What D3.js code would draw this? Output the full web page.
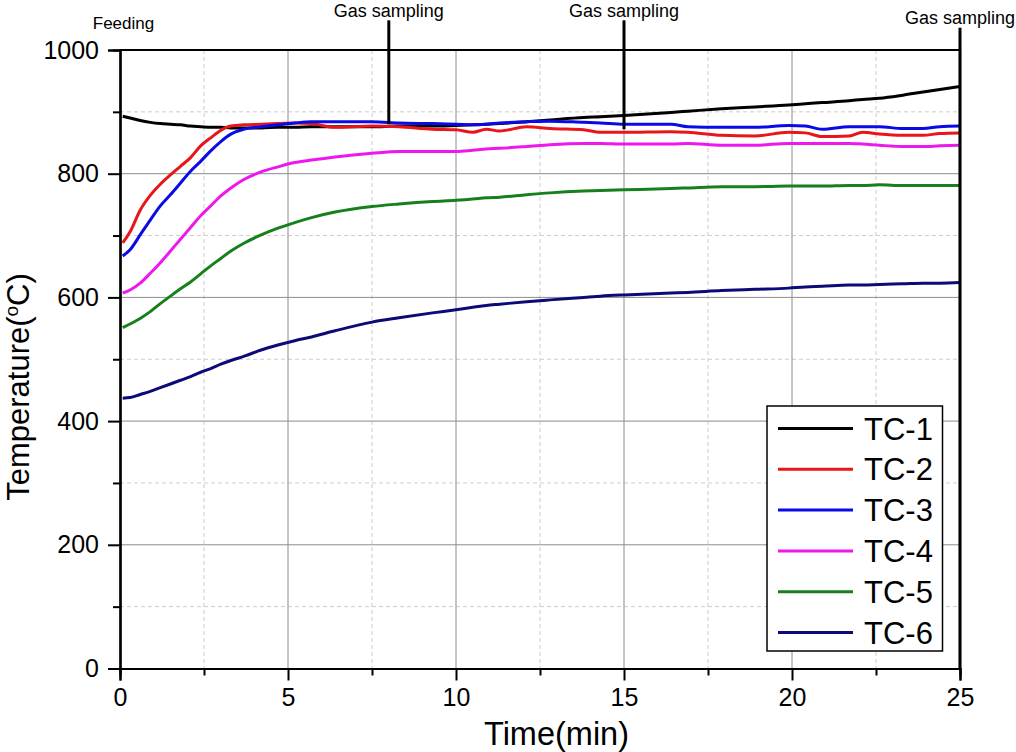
<!DOCTYPE html>
<html>
<head>
<meta charset="utf-8">
<script src="https://cdn.jsdelivr.net/npm/d3@7"></script>
<style>
  html, body { margin: 0; padding: 0; background: #fff; }
  svg { display: block; font-family: Arial, "Liberation Sans", sans-serif; }
</style>
</head>
<body>
<svg id="chart" width="1016" height="752"></svg>
<script>
// ---- data ----
const times = [0.08, 0.3, 0.6, 0.9, 1.2, 1.5, 1.8, 2.1, 2.4, 2.7, 3.0, 3.3, 3.7, 4.2, 4.7, 5.2, 5.7, 6.4, 7.5, 8.3, 9.3, 10, 10.5, 10.9, 11.3, 12.1, 12.8, 13.8, 14.3, 15, 16.4, 16.9, 17.9, 18.9, 19.9, 20.4, 20.9, 21.7, 22.1, 22.6, 23.3, 23.9, 24.4, 25];
const tc1 = [893, 890, 886, 883, 881, 880, 879, 877, 876, 875, 875, 874, 874, 874, 875, 875, 876, 876, 876, 877, 877, 878, 879, 880, 881, 884, 887, 891, 892, 894, 899, 901, 905, 908, 911, 913, 915, 918, 920, 922, 927, 932, 936, 941];
const tc2 = [688, 706, 741, 765, 783, 798, 812, 826, 845, 858, 870, 877, 879, 880, 881, 882, 881, 875, 877, 876, 872, 871, 867, 872, 869, 876, 873, 871, 867, 867, 868, 867, 862, 861, 867, 866, 860, 861, 867, 864, 862, 862, 865, 866];
const tc3 = [667, 677, 701, 725, 748, 766, 785, 804, 820, 837, 852, 864, 872, 876, 879, 882, 884, 884, 884, 882, 881, 880, 879, 880, 882, 884, 885, 883, 882, 880, 880, 876, 875, 875, 878, 877, 872, 876, 876, 876, 873, 873, 876, 877];
const tc4 = [607, 612, 623, 639, 656, 675, 694, 713, 732, 748, 764, 777, 791, 803, 811, 818, 822, 827, 833, 836, 836, 836, 838, 840, 841, 844, 847, 849, 849, 848, 848, 849, 846, 846, 849, 849, 849, 849, 848, 846, 844, 844, 845, 846];
const tc5 = [551, 557, 566, 577, 590, 602, 614, 625, 638, 651, 663, 675, 688, 701, 712, 721, 729, 738, 747, 751, 755, 757, 759, 761, 762, 766, 769, 772, 773, 774, 776, 777, 779, 779, 780, 780, 780, 781, 781, 782, 781, 781, 781, 781];
const tc6 = [437, 438, 443, 448, 454, 460, 466, 472, 479, 485, 492, 498, 505, 515, 523, 530, 536, 546, 560, 567, 575, 580, 584, 587, 589, 593, 596, 600, 602, 604, 607, 608, 611, 613, 615, 617, 618, 620, 620, 621, 622, 623, 623, 624];
const seriesNames = ["TC-1", "TC-2", "TC-3", "TC-4", "TC-5", "TC-6"];
const seriesColors = ["#000000", "#e8151b", "#0a0ae6", "#ee18ee", "#17801c", "#0b0b78"];
const xTicks = [0, 5, 10, 15, 20, 25];
const xMinorTicks = [2.5, 7.5, 12.5, 17.5, 22.5];
const yTicks = [0, 200, 400, 600, 800, 1000];
const yMinorTicks = [100, 300, 500, 700, 900];
const sampleTimes = [8, 15, 25];
const sampleTop = [1048, 1048, 1036];
const sampleBottom = [880, 872, 0];
const sampleLabel = "Gas sampling";
const feedLabel = "Feeding";

const seriesValues = [tc1, tc2, tc3, tc4, tc5, tc6];

// ---- layout ----
const svg = d3.select("#chart");
const L = 120, R = 960, T = 50, B = 668.5;
const x = d3.scaleLinear().domain([0, 25]).range([L, R]);
const y = d3.scaleLinear().domain([0, 1000]).range([B, T]);

// grid
const g = svg.append("g");
g.selectAll(".gxm").data(xMinorTicks).join("line")
  .attr("x1", d => x(d)).attr("x2", d => x(d)).attr("y1", T).attr("y2", B)
  .attr("stroke", "#cccccc").attr("stroke-width", 1).attr("stroke-dasharray", "4,3");
g.selectAll(".gym").data(yMinorTicks).join("line")
  .attr("x1", L).attr("x2", R).attr("y1", d => y(d)).attr("y2", d => y(d))
  .attr("stroke", "#cccccc").attr("stroke-width", 1).attr("stroke-dasharray", "4,3");
g.selectAll(".gx").data(xTicks.filter(d => d > 0 && d < 25)).join("line")
  .attr("x1", d => x(d)).attr("x2", d => x(d)).attr("y1", T).attr("y2", B)
  .attr("stroke", "#8c8c8c").attr("stroke-width", 1);
g.selectAll(".gy").data(yTicks.filter(d => d > 0 && d < 1000)).join("line")
  .attr("x1", L).attr("x2", R).attr("y1", d => y(d)).attr("y2", d => y(d))
  .attr("stroke", "#8c8c8c").attr("stroke-width", 1);

// lines
const line = d3.line().x(d => x(d[0])).y(d => y(d[1])).curve(d3.curveMonotoneX);
seriesValues.forEach((vals, i) => {
  svg.append("path")
    .datum(times.map((t, j) => [t, vals[j]]))
    .attr("fill", "none")
    .attr("stroke", seriesColors[i])
    .attr("stroke-width", 3)
    .attr("stroke-linejoin", "round")
    .attr("d", line);
});

// axes
const xAxis = svg.append("g").attr("transform", `translate(0,${B})`)
  .call(d3.axisBottom(x).tickValues(xTicks).tickSize(12).tickPadding(8).tickFormat(d3.format("d")));
const xAxisMinor = svg.append("g").attr("transform", `translate(0,${B})`)
  .call(d3.axisBottom(x).tickValues(xMinorTicks).tickSize(7).tickFormat(""));
const yAxis = svg.append("g").attr("transform", `translate(${L},0)`)
  .call(d3.axisLeft(y).tickValues(yTicks).tickSize(12).tickPadding(9).tickFormat(d3.format("d")));
const yAxisMinor = svg.append("g").attr("transform", `translate(${L},0)`)
  .call(d3.axisLeft(y).tickValues(yMinorTicks).tickSize(7).tickFormat(""));
[xAxis, xAxisMinor, yAxis, yAxisMinor].forEach(a => {
  a.select(".domain").attr("stroke", "#000").attr("stroke-width", 2.2);
  a.selectAll(".tick line").attr("stroke", "#000").attr("stroke-width", 2);
  a.selectAll(".tick text").attr("fill", "#000").attr("font-size", 25)
    .attr("font-family", "Arial, 'Liberation Sans', sans-serif");
});
xAxis.selectAll(".tick text").attr("dy", "0.71em");
// frame top & right
svg.append("line").attr("x1", L).attr("x2", R).attr("y1", T).attr("y2", T)
  .attr("stroke", "#000").attr("stroke-width", 2.2);
svg.append("line").attr("x1", R).attr("x2", R).attr("y1", T).attr("y2", B)
  .attr("stroke", "#000").attr("stroke-width", 2.2);

// axis titles
svg.append("text").attr("x", 556.5).attr("y", 745)
  .attr("text-anchor", "middle").attr("font-size", 32.5).attr("fill", "#000")
  .text("Time(min)");
const yt = svg.append("text")
  .attr("transform", `translate(29,${387}) rotate(-90)`)
  .attr("text-anchor", "middle").attr("font-size", 31).attr("fill", "#000");
yt.append("tspan").text("Temperature(");
yt.append("tspan").attr("font-size", 19).attr("dy", -11).text("o");
yt.append("tspan").attr("dy", 11).text("C)");

// gas sampling annotations
sampleTimes.forEach((t, i) => {
  svg.append("line")
    .attr("x1", x(t)).attr("x2", x(t))
    .attr("y1", y(sampleTop[i])).attr("y2", y(sampleBottom[i]))
    .attr("stroke", "#000").attr("stroke-width", 3);
  svg.append("text")
    .attr("x", x(t)).attr("y", y(sampleTop[i]) - 3.5)
    .attr("text-anchor", "middle").attr("font-size", 18).attr("fill", "#000")
    .text(sampleLabel);
});
svg.append("text").attr("x", x(0) + 3.5).attr("y", 28.5)
  .attr("text-anchor", "middle").attr("font-size", 17).attr("fill", "#000")
  .text(feedLabel);

// legend
const lg = svg.append("g").attr("transform", "translate(767,406)");
lg.append("rect").attr("width", 175.5).attr("height", 245)
  .attr("fill", "#fff").attr("stroke", "#000").attr("stroke-width", 1.5);
seriesNames.forEach((name, i) => {
  const cy = 22.5 + i * 40.8;
  lg.append("line").attr("x1", 11).attr("x2", 86).attr("y1", cy).attr("y2", cy)
    .attr("stroke", seriesColors[i]).attr("stroke-width", 3);
  lg.append("text").attr("x", 97).attr("y", cy + 11).attr("font-size", 31)
    .attr("fill", "#000").text(name);
});
</script>
</body>
</html>
